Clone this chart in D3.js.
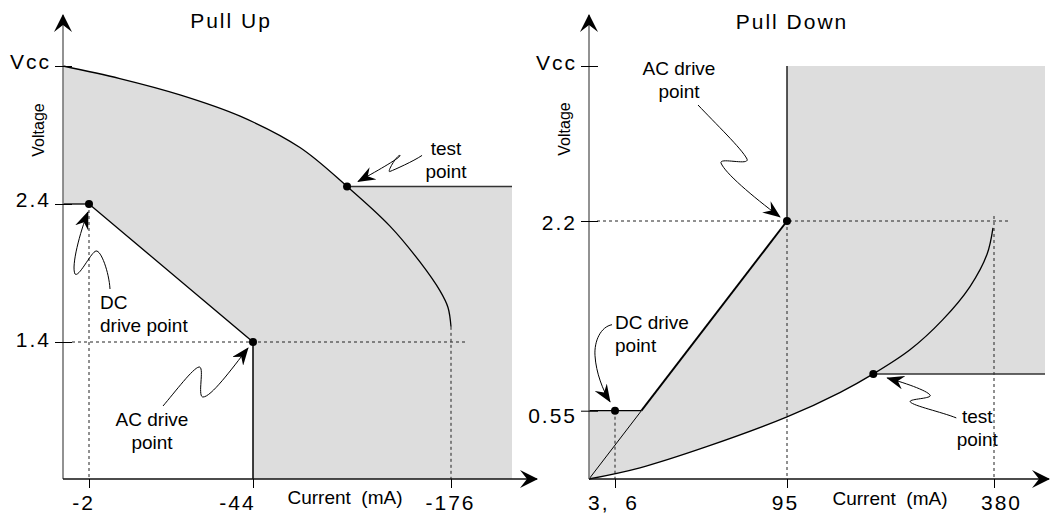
<!DOCTYPE html>
<html>
<head>
<meta charset="utf-8">
<script src="https://cdnjs.cloudflare.com/ajax/libs/d3/7.8.5/d3.min.js"></script>
<style>
body { margin: 0; background: #fff; }
svg { font-family: "Liberation Sans", Arial, Helvetica, sans-serif; }
</style>
</head>
<body>
<script>
// schematic value used for the top of both voltage axes
var VCC = 3.5;

// ---- Pull Up ----
var upTicksX = [-2, -44, -176];
var upTickLabelsX = ["-2", "-44", "-176"];
var upTicksY = [VCC, 2.4, 1.4];
var upTickLabelsY = ["Vcc", "2.4", "1.4"];
var upCurveI = [0, -9.9, -25.3, -40.7, -75.3, -106.7, -135.3, -155.3, -168.7, -174, -176];   // mA
var upCurveV = [3.5, 3.40, 3.27, 3.10, 2.85, 2.54, 2.24, 1.98, 1.77, 1.65, 1.51];             // V
var upTestIndex = 5;
var upDC = [-2, 2.4];
var upAC = [-44, 1.4];
var upEdge = -217;     // end of shaded area
var upGuideEnd = -187; // end of dashed 1.4 line

// ---- Pull Down ----
var downTicksX = [6, 95, 380];
var downTickLabelsX = ["3,  6", "95", "380"];
var downTicksY = [VCC, 2.2, 0.55];
var downTickLabelsY = ["Vcc", "2.2", "0.55"];
var downCurveI = [0, 18.9, 53.4, 95, 168.4, 213.8, 264.3, 309.2, 347, 370.4, 378.6];
var downCurveV = [0, 0.09, 0.26, 0.50, 0.71, 0.87, 1.08, 1.34, 1.63, 1.91, 2.14];
var downTestIndex = 5;
var downDC = [6, 0.55];
var downAC = [95, 2.2];
var downEdge = 450;
var downGuideEnd = 403;

var width = 1050, height = 514;
var shade = "#dddddd";

var svg = d3.select("body").append("svg")
    .attr("width", width)
    .attr("height", height);

var defs = svg.append("defs");
defs.append("marker").attr("id", "axisArrow")
    .attr("viewBox", "0 -9 18 18").attr("refX", 17).attr("refY", 0)
    .attr("markerWidth", 18).attr("markerHeight", 18)
    .attr("markerUnits", "userSpaceOnUse").attr("orient", "auto")
    .append("path").attr("d", "M0,-9 L18,0 L0,9 L7,0 Z").attr("fill", "#000");
defs.append("marker").attr("id", "barb")
    .attr("viewBox", "0 -7 18 14").attr("refX", 17).attr("refY", 0)
    .attr("markerWidth", 18).attr("markerHeight", 14)
    .attr("markerUnits", "userSpaceOnUse").attr("orient", "auto")
    .append("path").attr("d", "M0,-7 L18,0 L0,7 L6,0 Z").attr("fill", "#000");

var curveLine = d3.line().curve(d3.curveCatmullRom.alpha(0.5));

function seg(g, x1, y1, x2, y2, w, dash, col) {
    var l = g.append("line").attr("x1", x1).attr("y1", y1).attr("x2", x2).attr("y2", y2)
        .attr("stroke", col || "#000").attr("stroke-width", w);
    if (dash) l.attr("stroke-dasharray", "3,3");
    return l;
}

function bottomAxis(g, scale, ticks, labels, nudge, y) {
    var ax = g.append("g").attr("transform", "translate(0," + y + ")")
        .call(d3.axisBottom(scale).tickValues(ticks)
            .tickFormat(function(d, i) { return labels[i]; })
            .tickSize(9).tickPadding(7));
    ax.select(".domain").remove();
    ax.attr("font-size", 21).attr("font-family", null).attr("color", "#000");
    ax.selectAll("text").style("letter-spacing", "2px").style("white-space", "pre")
        .attr("dx", function(d, i) { return nudge[i]; });
}

function leftAxis(g, scale, ticks, labels, nudge, x) {
    var ax = g.append("g").attr("transform", "translate(" + (x + 9) + ",0)")
        .call(d3.axisLeft(scale).tickValues(ticks)
            .tickFormat(function(d, i) { return labels[i]; })
            .tickSize(17).tickPadding(4));
    ax.select(".domain").remove();
    ax.attr("font-size", 21).attr("font-family", null).attr("color", "#000");
    ax.selectAll("text").style("letter-spacing", "2px")
        .attr("y", function(d, i) { return nudge[i]; });
}

function annotate(g, tx, ty, a) {
    g.append("path").attr("transform", "translate(" + tx + "," + ty + ")")
        .attr("d", a.path).attr("fill", "none").attr("stroke", "#000")
        .attr("stroke-width", 1).attr("marker-end", "url(#barb)");
    g.selectAll(null).data(a.lines).enter().append("text")
        .attr("x", tx + a.dx).attr("y", function(d, i) { return ty + a.dy[i]; })
        .attr("text-anchor", a.anchor).attr("font-size", 19).attr("fill", "#000")
        .text(function(d) { return d; });
}

function dot(g, x, y) {
    g.append("circle").attr("cx", x).attr("cy", y).attr("r", 4).attr("fill", "#000");
}

function axisLines(g, x0, y0, xEnd, yEnd) {
    seg(g, x0, y0, x0, yEnd, 1.6, false, "#777").attr("marker-end", "url(#axisArrow)");
    seg(g, x0, y0, xEnd, y0, 1.4, false, "#111").attr("marker-end", "url(#axisArrow)");
}

// =================== Pull Up ===================
var up = svg.append("g");
var xU = d3.scaleLinear().domain([0].concat(upTicksX, [upEdge])).range([63, 89, 253, 451, 512]);
var yU = d3.scaleLinear().domain([0].concat(upTicksY.slice().reverse())).range([479, 342, 204, 66]);

var upPts = upCurveI.map(function(d, i) { return [xU(d), yU(upCurveV[i])]; });
var upLast = upPts[upPts.length - 1];
var upTest = upPts[upTestIndex];

up.append("path").attr("fill", shade).attr("d",
    curveLine(upPts) +
    "L" + [upLast[0], yU(0)] +
    "L" + [xU(upAC[0]), yU(0)] +
    "L" + [xU(upAC[0]), yU(upAC[1])] +
    "L" + [xU(upDC[0]), yU(upDC[1])] +
    "L" + [xU(0), yU(upDC[1])] + "Z");
up.append("rect").attr("fill", shade)
    .attr("x", upTest[0]).attr("y", upTest[1])
    .attr("width", xU(upEdge) - upTest[0]).attr("height", yU(0) - upTest[1]);

// dashed guides
seg(up, xU(upDC[0]), yU(upDC[1]), xU(upDC[0]), yU(0), 1, true, "#222");
seg(up, upLast[0], upLast[1], upLast[0], yU(0), 1, true, "#222");
seg(up, xU(0) + 9, yU(upAC[1]), xU(upGuideEnd), yU(upAC[1]), 1, true, "#222");

// boundary lines
seg(up, xU(0), yU(upDC[1]), xU(upDC[0]), yU(upDC[1]), 1.3);
seg(up, xU(upDC[0]), yU(upDC[1]), xU(upAC[0]), yU(upAC[1]), 1.3);
seg(up, xU(upAC[0]), yU(upAC[1]), xU(upAC[0]), yU(0), 1.5);
seg(up, upTest[0], upTest[1], xU(upEdge), upTest[1], 1.5, false, "#333");
up.append("path").attr("d", curveLine(upPts)).attr("fill", "none")
    .attr("stroke", "#000").attr("stroke-width", 1.3);

axisLines(up, xU(0), yU(0), xU(upEdge) + 25, yU(VCC) - 51);
bottomAxis(up, xU, upTicksX, upTickLabelsX, [-6, -16, -1], yU(0));
leftAxis(up, yU, upTicksY, upTickLabelsY, [-4, -4, -2], xU(0));

dot(up, xU(upDC[0]), yU(upDC[1]));
dot(up, xU(upAC[0]), yU(upAC[1]));
dot(up, upTest[0], upTest[1]);

annotate(up, upTest[0], upTest[1], {
    path: "M75,-31 C66,-25 48,-17 43,-15 C39,-13 50,-32 53,-31 C55,-30 33,-17 11,-5",
    lines: ["test", "point"], dx: 99, dy: [-31, -8], anchor: "middle"});
annotate(up, xU(upDC[0]), yU(upDC[1]), {
    path: "M21,85 C20,68 12,46 7,47 C2,48 -10,74 -14,70 C-18,62 -9,28 -1,8",
    lines: ["DC", "drive point"], dx: 11, dy: [105, 128], anchor: "start"});
annotate(up, xU(upAC[0]), yU(upAC[1]), {
    path: "M-90,64 C-78,50 -60,26 -54,25 C-48,24 -56,55 -50,55 C-42,55 -22,28 -5,6",
    lines: ["AC drive", "point"], dx: -101, dy: [84, 107], anchor: "middle"});

up.append("text").attr("x", 231).attr("y", 28).attr("text-anchor", "middle")
    .attr("font-size", 21).style("letter-spacing", "2px").text("Pull Up");
up.append("text").attr("x", 345).attr("y", 504).attr("text-anchor", "middle")
    .attr("font-size", 19).style("white-space", "pre").text("Current  (mA)");
up.append("text").attr("transform", "translate(43.5,130) rotate(-90)")
    .attr("text-anchor", "middle").attr("font-size", 16).text("Voltage");

// =================== Pull Down ===================
var dn = svg.append("g");
var xD = d3.scaleLinear().domain([0].concat(downTicksX, [downEdge])).range([589, 615, 787, 994, 1045]);
var yD = d3.scaleLinear().domain([0].concat(downTicksY.slice().reverse())).range([479, 410.7, 221, 66]);

var dnPts = downCurveI.map(function(d, i) { return [xD(d), yD(downCurveV[i])]; });
var dnLast = dnPts[dnPts.length - 1];
var dnTest = dnPts[downTestIndex];
var pO = [xD(0), yD(0)];
var pA = [xD(downAC[0]), yD(downAC[1])];
var yi = yD(downDC[1]);
var xi = pO[0] + (pO[1] - yi) / (pO[1] - pA[1]) * (pA[0] - pO[0]);

dn.append("path").attr("fill", shade).attr("d",
    curveLine(dnPts) +
    "L" + [dnLast[0], yD(VCC)] +
    "L" + [pA[0], yD(VCC)] +
    "L" + pA +
    "L" + [xi, yi] +
    "L" + [pO[0], yi] + "Z");
dn.append("rect").attr("fill", shade)
    .attr("x", dnTest[0]).attr("y", yD(VCC))
    .attr("width", xD(downEdge) - dnTest[0]).attr("height", dnTest[1] - yD(VCC));

// dashed guides
seg(dn, xD(downDC[0]), yi, xD(downDC[0]), yD(0), 1, true, "#222");
seg(dn, pA[0], pA[1], pA[0], yD(0), 1, true, "#222");
seg(dn, xD(380), yD(downAC[1]) - 5, xD(380), yD(0), 1, true, "#222");
seg(dn, pO[0] + 8, pA[1], xD(downGuideEnd), pA[1], 1, true, "#222");

// boundary lines
seg(dn, pO[0], yi, xi, yi, 1.3);
seg(dn, pO[0], pO[1], xi, yi, 1);
seg(dn, xi, yi, pA[0], pA[1], 1.9);
seg(dn, pA[0], pA[1], pA[0], yD(VCC), 1.3);
seg(dn, dnTest[0], dnTest[1], xD(downEdge), dnTest[1], 1.5, false, "#333");
dn.append("path").attr("d", curveLine(dnPts)).attr("fill", "none")
    .attr("stroke", "#000").attr("stroke-width", 1.3);

axisLines(dn, xD(0), yD(0), 1049, yD(VCC) - 51);
bottomAxis(dn, xD, downTicksX, downTickLabelsX, [-2, -2, 7], yD(0));
leftAxis(dn, yD, downTicksY, downTickLabelsY, [-3, 2, 5], xD(0));

dot(dn, xD(downDC[0]), yi);
dot(dn, pA[0], pA[1]);
dot(dn, dnTest[0], dnTest[1]);

annotate(dn, pA[0], pA[1], {
    path: "M-89,-116 C-72,-98 -45,-72 -40,-62 C-37,-55 -68,-64 -66,-58 C-62,-48 -35,-25 -7,-4",
    lines: ["AC drive", "point"], dx: -108, dy: [-146, -123.5], anchor: "middle"});
annotate(dn, xD(downDC[0]), yi, {
    path: "M-3,-86 C-14,-84 -21,-70 -20,-55 C-19,-38 -12,-20 -5,-9",
    lines: ["DC drive", "point"], dx: 0, dy: [-82, -59], anchor: "start"});
annotate(dn, dnTest[0], dnTest[1], {
    path: "M83,44 C68,38 40,32 37,28 C35,25 55,25 57,22 C57,18 35,10 14,4",
    lines: ["test", "point"], dx: 104, dy: [48.6, 71.6], anchor: "middle"});

dn.append("text").attr("x", 792).attr("y", 29).attr("text-anchor", "middle")
    .attr("font-size", 21).style("letter-spacing", "2px").text("Pull Down");
dn.append("text").attr("x", 890).attr("y", 505).attr("text-anchor", "middle")
    .attr("font-size", 19).style("white-space", "pre").text("Current  (mA)");
dn.append("text").attr("transform", "translate(569.5,129) rotate(-90)")
    .attr("text-anchor", "middle").attr("font-size", 16).text("Voltage");
</script>
</body>
</html>
